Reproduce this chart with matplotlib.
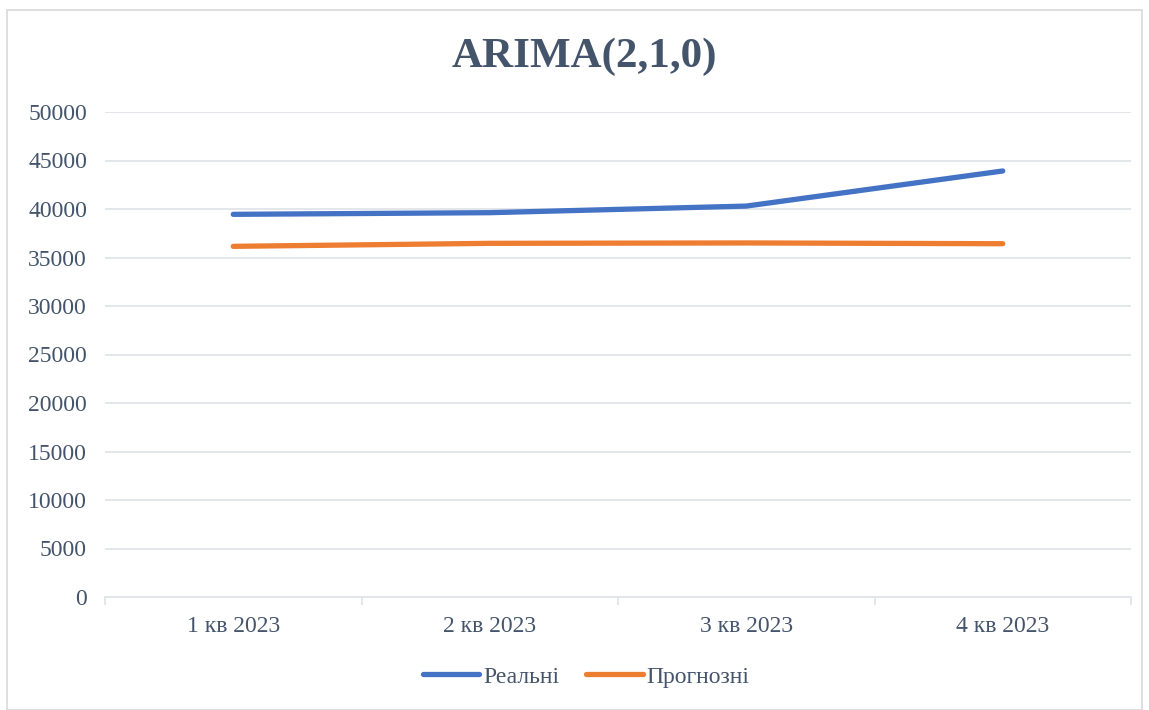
import matplotlib.pyplot as plt
from matplotlib.patches import Rectangle

quarters = ["1 кв 2023", "2 кв 2023", "3 кв 2023", "4 кв 2023"]
real = [39450, 39620, 40300, 43920]
forecast = [36150, 36460, 36500, 36420]

text_color = "#44546A"
grid_color = "#E1E4E8"

plt.rcParams['font.family'] = ['Liberation Serif', 'DejaVu Serif']

fig = plt.figure(figsize=(11.49, 7.10), dpi=100)
ax = fig.add_axes([105 / 1149, 1 - 597 / 710, 1026 / 1149, 485 / 710])

x = range(len(quarters))
ax.plot(x, real, color="#4472C4", lw=3.8, solid_capstyle="round", label="Реальні")
ax.plot(x, forecast, color="#ED7D31", lw=3.8, solid_capstyle="round", label="Прогнозні")

ax.set_xlim(-0.5, len(quarters) - 0.5)
ax.set_ylim(0, 50000)
ax.set_yticks(range(0, 50001, 5000))
ax.yaxis.grid(True, color=grid_color, lw=1.3)
ax.set_axisbelow(True)
ax.set_xticks(list(x))
ax.set_xticklabels(quarters)
ax.set_xticks([i - 0.5 for i in range(len(quarters) + 1)], minor=True)
ax.tick_params(axis="x", which="major", length=0, pad=14, labelsize=17, labelcolor=text_color)
ax.tick_params(axis="x", which="minor", length=6, color=grid_color, width=1.3)
ax.tick_params(axis="y", length=0, pad=13, labelsize=17, labelcolor=text_color)

for s in ["top", "right", "left"]:
    ax.spines[s].set_visible(False)
ax.spines["bottom"].set_color(grid_color)
ax.spines["bottom"].set_linewidth(1.3)

fig.text(584 / 1149, 1 - 57 / 710, "ARIMA(2,1,0)", ha="center", va="center",
         fontsize=31, fontweight="bold", color=text_color)

fig.legend(loc="center", bbox_to_anchor=(586 / 1149, 1 - 677 / 710), ncol=2,
           frameon=False, fontsize=17, labelcolor=text_color,
           handlelength=2.4, handletextpad=0.15, columnspacing=1.15)

fig.patches.append(Rectangle((7 / 1149, 0), 1 - 14 / 1149, 1 - 10 / 710,
                             transform=fig.transFigure, fill=False,
                             edgecolor="#D9D9D9", lw=1.2))

fig.savefig("out.png", dpi=100)
